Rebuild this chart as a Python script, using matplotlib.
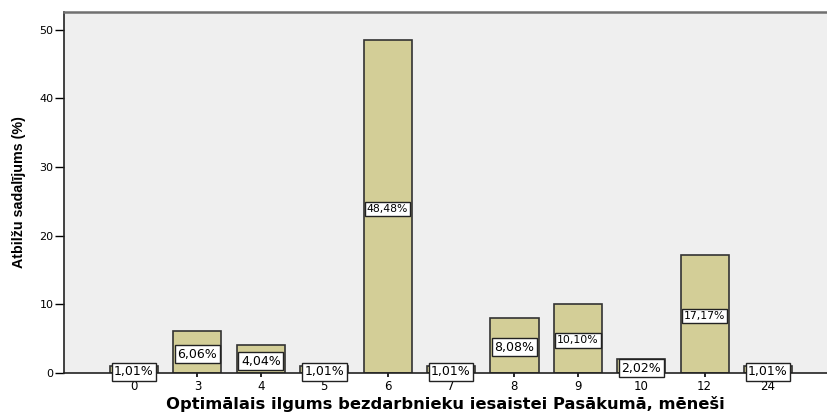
import matplotlib
matplotlib.use('Agg')
import matplotlib.pyplot as plt
import numpy as np

# ── Data ──────────────────────────────────────────────────────────────────────
months = ['0', '3', '4', '5', '6', '7', '8', '9', '10', '12', '24']
percent = [1.01, 6.06, 4.04, 1.01, 48.48, 1.01, 8.08, 10.10, 2.02, 17.17, 1.01]

plt.rcParams['font.family'] = ['DejaVu Sans']

fig = plt.figure(figsize=(8.27, 4.13), dpi=100)
ax = fig.add_axes([64 / 827, 1 - 373 / 413, 1 - 64 / 827, (373 - 12) / 413])
ax.set_facecolor('#efefef')

x = np.arange(len(months))
ax.bar(x, percent, width=0.76, color='#d3ce97', edgecolor='#333333', lw=1.2, zorder=2)

# value boxes at half bar height
for xi, v in zip(x, percent):
    txt = f'{v:.2f}%'.replace('.', ',')
    ax.annotate(txt, (xi, v / 2), xytext=(0, -1.5), textcoords='offset points',
                ha='center', va='center',
                fontsize=9 if len(txt) <= 5 else 7.8, zorder=3,
                bbox=dict(boxstyle='square,pad=0.2', fc='white', ec='#222222', lw=1.0))

ax.set_xlim(-1.104, 10.93)
ax.set_ylim(0, 52.6)
ax.set_xticks(x)
ax.set_xticklabels(months, fontsize=8.5)
ax.set_yticks(np.arange(0, 51, 10))
ax.tick_params(axis='y', labelsize=8, length=6.5, width=1, pad=1)
ax.tick_params(axis='x', length=3, width=1.2, pad=2)

for s in ['left', 'bottom']:
    ax.spines[s].set_color('#222222')
    ax.spines[s].set_linewidth(1.2)
ax.spines['top'].set_color('#707070')
ax.spines['top'].set_linewidth(1.8)
ax.spines['right'].set_visible(False)

ax.set_xlabel('Optimālais ilgums bezdarbnieku iesaistei Pasākumā, mēneši',
              fontsize=11.8, fontweight='bold', labelpad=2)
ax.set_ylabel('Atbilžu sadalījums (%)', fontsize=10.3, fontweight='bold',
              labelpad=10, family=['Liberation Sans', 'DejaVu Sans'])

fig.savefig('out.png', dpi=100)
